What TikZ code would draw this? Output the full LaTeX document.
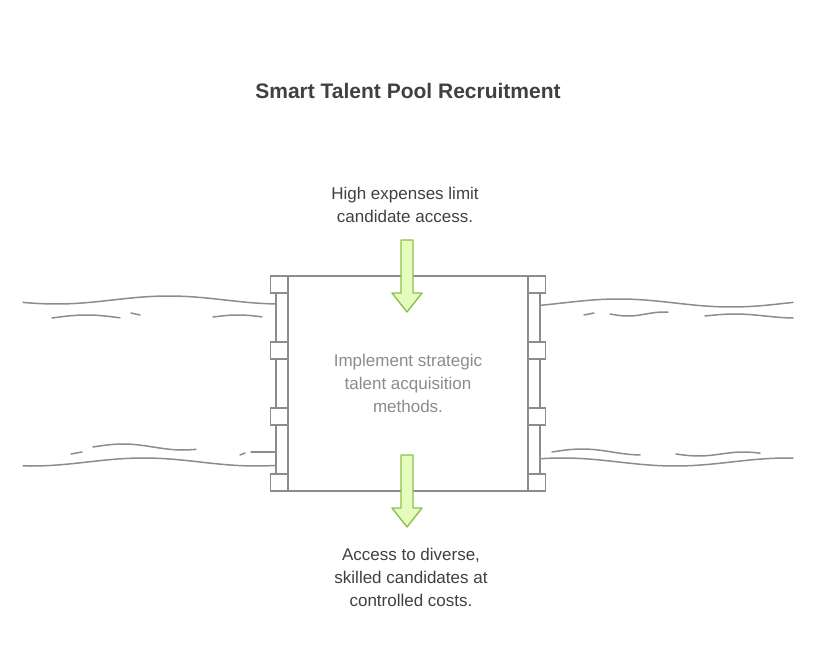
\documentclass[tikz,border=0pt]{standalone}
\usepackage{fontspec}
\setmainfont{Liberation Sans}
\usetikzlibrary{positioning}
\definecolor{gategray}{HTML}{8C8C8C}
\definecolor{textgray}{HTML}{404040}
\definecolor{arrowfill}{HTML}{E5FCBE}
\definecolor{arrowdraw}{HTML}{8BC34A}
\tikzset{
	wave/.style={draw=gategray, line width=1.5pt, line cap=round},
	post/.style={draw=gategray, line width=1.6pt, fill=white},
	flow/.style={draw=arrowdraw, fill=arrowfill, line width=1.4pt, line join=round},
	label/.style={text=textgray, align=center, font=\fontsize{17}{23}\selectfont}
}
\newcommand{\flowarrow}[2]{% x top
	\draw[flow] (#1-6,#2) -- (#1+6,#2) -- (#1+6,#2+53) -- (#1+15,#2+53) -- (#1,#2+72)
		-- (#1-15,#2+53) -- (#1-6,#2+53) -- cycle;}
\begin{document}
\begin{tikzpicture}[x=1pt, y=-1pt]
	\useasboundingbox (0,0) rectangle (816,660);
	\node[font=\bfseries\fontsize{21}{25}\selectfont, text=textgray] (title) at (408,91) {Smart Talent Pool Recruitment};
	
	% river banks
	\draw[wave] plot[domain=23:276, samples=60, smooth] (\x, {300+4*sin(\x*1.6)});
	\draw[wave] plot[domain=52:120, samples=20, smooth] (\x, {318-3*sin((\x-52)*2.6)});
	\draw[wave] (131,313) -- (140,315);
	\draw[wave] plot[domain=213:262, samples=15, smooth] (\x, {317-2*sin((\x-213)*3.6)});
	\draw[wave] plot[domain=23:276, samples=60, smooth] (\x, {462+4*sin(\x*1.6+40)});
	\draw[wave] (71,454) -- (82,452);
	\draw[wave] plot[domain=93:196, samples=25, smooth] (\x, {447-3*sin((\x-93)*3)});
	\draw[wave] (240,455) -- (245,453);
	\draw[wave] (251,452) -- (276,452);
	\draw[wave] plot[domain=540:793, samples=60, smooth] (\x, {303+4*sin(\x*1.6)});
	\draw[wave] (584,315) -- (594,313);
	\draw[wave] plot[domain=610:668, samples=15, smooth] (\x, {314+2*sin((\x-610)*5)});
	\draw[wave] plot[domain=705:793, samples=20, smooth] (\x, {316-2*sin((\x-705)*3)});
	\draw[wave] plot[domain=540:793, samples=60, smooth] (\x, {462+4*sin(\x*1.6+90)});
	\draw[wave] plot[domain=552:640, samples=20, smooth] (\x, {452-3*sin((\x-552)*3)});
	\draw[wave] plot[domain=676:760, samples=20, smooth] (\x, {454+2*sin((\x-676)*4)});
	
	% gate
	\draw[post] (276,284) -- (276,483) (540,284) -- (540,483);
	\node[post, minimum width=240pt, minimum height=215pt, inner sep=0pt] (gate) at (408,383.5) {};
	\foreach \y in {284.5, 350.5, 416.5, 482.5} {
		\node[post, minimum size=17pt, inner sep=0pt] at (279,\y) {};
		\node[post, minimum size=17pt, inner sep=0pt] at (537,\y) {};
	}
	\node[label, text=gategray] (task) at (gate) {Implement strategic\\talent acquisition\\methods.};
	
	% flows
	\node[label] (problem) at (405,205) {High expenses limit\\candidate access.};
	\flowarrow{407}{240}
	\flowarrow{407}{455}
	\node[label] (result) at (411,577) {Access to diverse,\\skilled candidates at\\controlled costs.};
\end{tikzpicture}
\end{document}
